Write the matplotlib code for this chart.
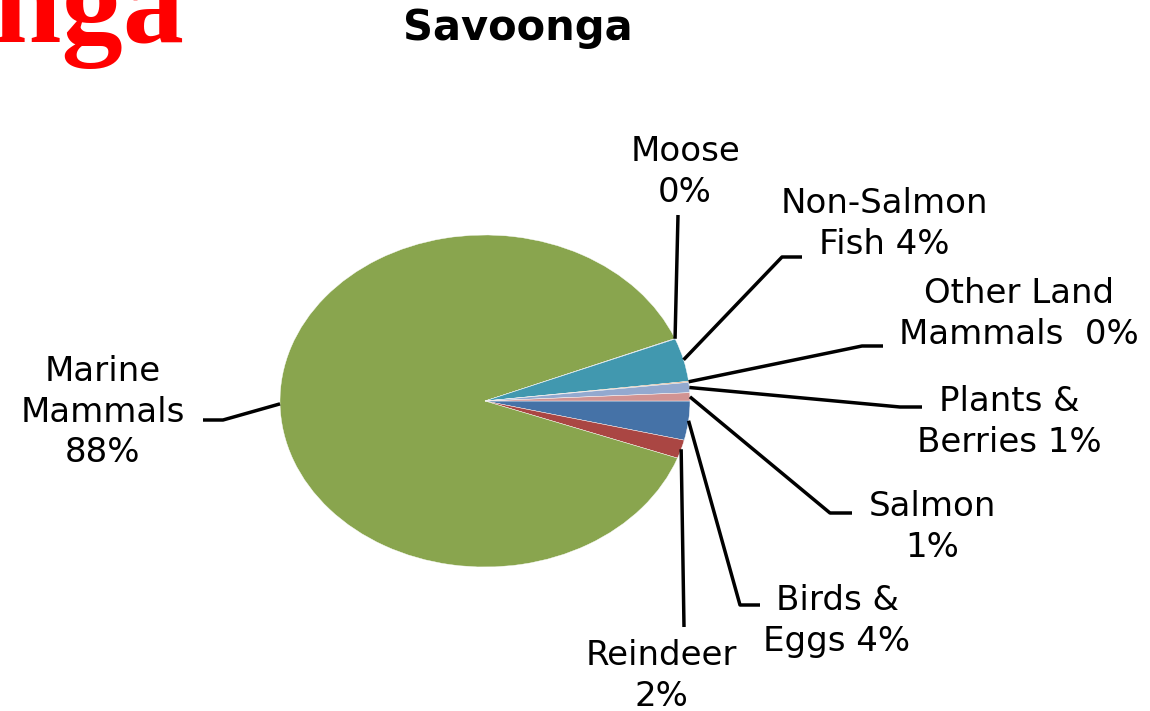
import numpy as np
import matplotlib
matplotlib.use("Agg")
import matplotlib.pyplot as plt

# ---- data (Excel order, drawn clockwise from 3 o'clock) ----
categories = ["Birds & Eggs", "Reindeer", "Marine Mammals", "Moose",
              "Non-Salmon Fish", "Other Land Mammals", "Plants & Berries", "Salmon"]
values = [3.8, 1.8, 88.4, 0.05, 4.2, 0.1, 1.0, 0.8]
label_texts = ["Birds &\nEggs 4%", "Reindeer\n2%", "Marine\nMammals\n88%", "Moose\n0%",
               "Non-Salmon\nFish 4%", "Other Land\nMammals  0%", "Plants &\nBerries 1%", "Salmon\n1%"]
colors = ["#4572A7", "#AA4643", "#89A54E", "#71588F",
          "#4198AF", "#DB843D", "#93A9CF", "#D19392"]

W, H = 1150, 711
fig = plt.figure(figsize=(W / 100, H / 100), dpi=100)
ax = fig.add_axes([0, 0, 1, 1])

# pixel geometry of the (elliptical) pie
cx, cy, rx, ry = 485, 401, 205, 166

def P(px, py):
    return (px - cx) / rx, (cy - py) / ry

wedges, _ = ax.pie(values, colors=colors, startangle=0, counterclock=False,
                   radius=1.0, center=(0, 0),
                   wedgeprops=dict(edgecolor="white", linewidth=0.3))
ax.set_aspect("auto")
ax.set_xlim((0 - cx) / rx, (W - cx) / rx)
ax.set_ylim((cy - H) / ry, cy / ry)
ax.axis("off")

# layout of leader lines (elbow, end) and label centers in pixel coords
layout = {
    "Birds & Eggs": ((740, 605), (760, 605), (837, 621)),
    "Reindeer": ((684, 627), None, (661, 676)),
    "Marine Mammals": ((223, 420), (203, 420), (103, 412)),
    "Moose": ((678, 215), None, (685, 172)),
    "Non-Salmon Fish": ((782, 257), (802, 257), (884, 224)),
    "Other Land Mammals": ((862, 346), (883, 346), (1019, 314)),
    "Plants & Berries": ((900, 407), (922, 407), (1009, 422)),
    "Salmon": ((830, 513), (852, 513), (932, 527)),
}

for w, cat, txt in zip(wedges, categories, label_texts):
    mid = np.deg2rad((w.theta1 + w.theta2) / 2)
    sx, sy = np.cos(mid) * 1.0, np.sin(mid) * 1.0
    elbow, end, tc = layout[cat]
    pts = [(sx, sy), P(*elbow)]
    if end is not None:
        pts.append(P(*end))
    xs, ys = zip(*pts)
    ax.plot(xs, ys, color="black", lw=2.5, solid_capstyle="butt", zorder=3)
    ax.text(*P(*tc), txt, ha="center", va="center", fontsize=24.5,
            family="DejaVu Sans", linespacing=1.28, color="black")

# title
fig.text(518 / W, 1 - 28 / H, "Savoonga", ha="center", va="center",
         fontsize=30, fontweight="bold", family="DejaVu Sans")
# partially visible red heading at top-left
fig.text(184 / W, 1 - 42 / H, "Savoonga", ha="right", va="baseline",
         fontsize=88, fontweight="bold", family="Liberation Serif", color="#FF0000")

fig.savefig("out.png", dpi=100)
